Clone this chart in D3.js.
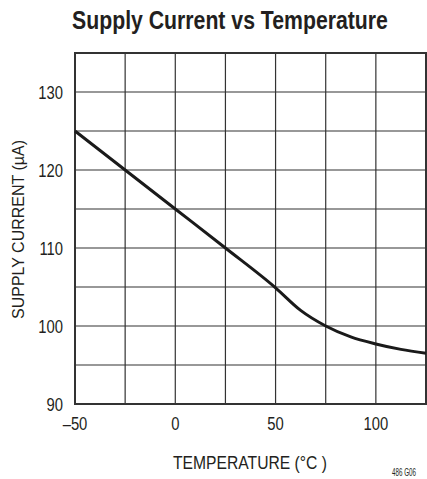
<!DOCTYPE html>
<html><head><meta charset="utf-8">
<script src="https://cdn.jsdelivr.net/npm/d3@7"></script>
<style>body{margin:0;background:#fff}svg{display:block}</style>
</head><body>
<svg id="c" width="427" height="479"></svg>
<script>
const temps = [-50, -25, 0, 25, 50, 62.5, 75, 87.5, 100, 112.5, 125];
const current = [125, 120, 115, 110, 104.9, 102.0, 100.0, 98.6, 97.7, 97.0, 96.5];
const xTicks = [-50, 0, 50, 100];
const xGrid = [-50, -25, 0, 25, 50, 75, 100, 125];
const yTicks = [90, 100, 110, 120, 130];
const yGrid = [90, 95, 100, 105, 110, 115, 120, 125, 130, 135];
const title = "Supply Current vs Temperature";
const xTitle = "TEMPERATURE (°C )";
const yTitle = "SUPPLY CURRENT (µA)";
const note = "486 G06";

const F = "'Liberation Sans',Arial,sans-serif";
const INK = "#231f20";
const COND = 0.78;
const svg = d3.select("#c");
const L = 75, R = 426, T = 53, B = 404;
const x = d3.scaleLinear().domain([-50, 125]).range([L, R]);
const y = d3.scaleLinear().domain([90, 135]).range([B, T]);

// horizontal condensing around anchor point
function squeeze(sel, ax, ay, s) {
  sel.attr("transform", `translate(${ax},${ay}) scale(${s},1) translate(${-ax},${-ay})`);
}

const tt = svg.append("text").attr("x", 230).attr("y", 29).attr("text-anchor", "middle")
  .attr("font-family", F).attr("font-weight", "bold").attr("font-size", 25)
  .attr("fill", INK).text(title);
squeeze(tt, 230, 29, 316 / tt.node().getComputedTextLength());

const g = svg.append("g");
g.selectAll(".vg").data(xGrid).join("line")
  .attr("x1", d => x(d)).attr("x2", d => x(d)).attr("y1", T).attr("y2", B)
  .attr("stroke", "#333").attr("stroke-width", 1.2);
g.selectAll(".hg").data(yGrid).join("line")
  .attr("y1", d => y(d)).attr("y2", d => y(d)).attr("x1", L).attr("x2", R)
  .attr("stroke", "#333").attr("stroke-width", 1.2);
g.append("rect").attr("x", L).attr("y", T).attr("width", R - L).attr("height", B - T)
  .attr("fill", "none").attr("stroke", "#333").attr("stroke-width", 2);

const line = d3.line().x((d, i) => x(temps[i])).y(d => y(d)).curve(d3.curveMonotoneX);
g.append("path").datum(current).attr("d", line).attr("fill", "none")
  .attr("stroke", "#1a1a1a").attr("stroke-width", 3).attr("stroke-linejoin", "round");

svg.selectAll(".xt").data(xTicks).join("text")
  .attr("x", d => x(d)).attr("y", 430).attr("text-anchor", "middle")
  .attr("font-family", F).attr("font-size", 19).attr("fill", INK)
  .text(d => d < 0 ? "\u2013" + Math.abs(d) : d)
  .each(function(d) { squeeze(d3.select(this), x(d), 430, COND); });
svg.selectAll(".yt").data(yTicks).join("text")
  .attr("x", 63).attr("y", d => y(d) + 7).attr("text-anchor", "end")
  .attr("font-family", F).attr("font-size", 19).attr("fill", INK)
  .text(d => d)
  .each(function(d) { squeeze(d3.select(this), 63, y(d) + 7, COND); });

const xt = svg.append("text").attr("x", 250).attr("y", 469).attr("text-anchor", "middle")
  .attr("font-family", F).attr("font-size", 19).attr("fill", INK).text(xTitle);
squeeze(xt, 250, 469, 154 / xt.node().getComputedTextLength());

const yt = svg.append("text").attr("x", 0).attr("y", 0).attr("text-anchor", "middle")
  .attr("font-family", F).attr("font-size", 17).attr("fill", INK).text(yTitle);
yt.attr("transform", `translate(23.5,229.5) rotate(-90) scale(${179 / yt.node().getComputedTextLength()},1)`);

const nt = svg.append("text").attr("x", 416).attr("y", 476).attr("text-anchor", "end")
  .attr("font-family", F).attr("font-size", 10).attr("fill", INK).text(note);
squeeze(nt, 416, 476, 24 / nt.node().getComputedTextLength());
</script>
</body></html>
